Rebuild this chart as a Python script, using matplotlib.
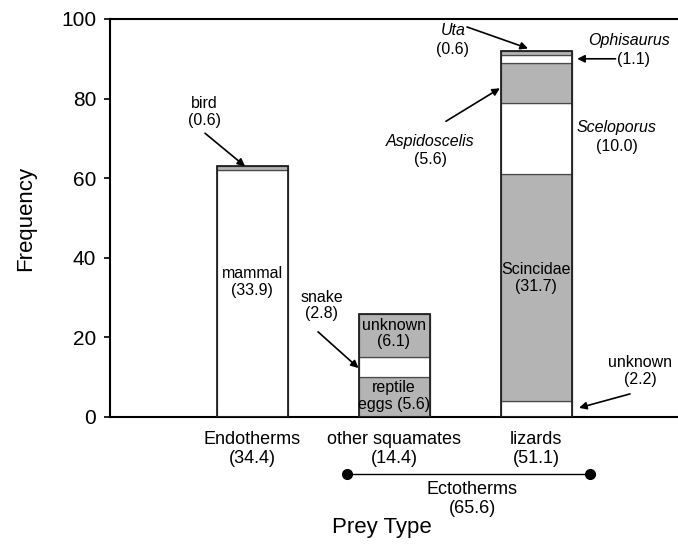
import matplotlib.pyplot as plt

plt.rcParams['font.family'] = ['Liberation Sans', 'DejaVu Sans']

# prey groups (x positions 1..3) and stacked counts, bottom to top
groups = ["Endotherms\n(34.4)", "other squamates\n(14.4)", "lizards\n(51.1)"]
endo_counts = [62, 1]                 # mammal, bird
squam_counts = [10, 5, 11]            # reptile eggs, snake, unknown
lizard_counts = [4, 57, 18, 10, 2, 1]  # unknown, Scincidae, Sceloporus, Aspidoscelis, Ophisaurus, Uta

endo_fill = ["white", "gray"]
squam_fill = ["gray", "white", "gray"]
lizard_fill = ["white", "gray", "white", "gray", "white", "gray"]

GRAY = "#b4b4b4"
bar_w = 0.5

fig = plt.figure(figsize=(6.78, 5.45), dpi=100)
ax = fig.add_axes([110 / 678, 1 - 417 / 545, 568 / 678, 398 / 545])


def stack(x, counts, fills):
    bottom = 0
    for c, f in zip(counts, fills):
        ax.bar(x, c, bottom=bottom, width=bar_w, color=GRAY if f == "gray" else "white",
               edgecolor="#4a4a4a", linewidth=0.9, zorder=2)
        bottom += c
    # outer outline
    ax.bar(x, bottom, width=bar_w, fill=False, edgecolor="#222222", linewidth=1.3, zorder=3)
    return bottom


tot_endo = stack(1, endo_counts, endo_fill)
tot_squam = stack(2, squam_counts, squam_fill)
tot_liz = stack(3, lizard_counts, lizard_fill)

ax.set_xlim(0, 4)
ax.set_ylim(0, 100)
ax.set_yticks([0, 20, 40, 60, 80, 100])
ax.set_xticks([1, 2, 3])
ax.set_xticklabels(groups, fontsize=13, linespacing=1.15)
ax.tick_params(axis="x", length=0, pad=10)
ax.tick_params(axis="y", labelsize=15, length=4, width=1.2, direction="out", pad=6)
ax.spines["right"].set_visible(False)
for s in ["left", "top", "bottom"]:
    ax.spines[s].set_linewidth(1.5)

ax.set_ylabel("Frequency", fontsize=16, labelpad=18)
ax.set_xlabel("Prey Type", fontsize=16)
ax.xaxis.set_label_coords((382 - 110) / 568, -(517 - 417) / 398)

arrow = dict(arrowstyle="-|>", color="black", lw=1.2, mutation_scale=11,
             shrinkA=0, shrinkB=0)
fs = 11.5

# Endotherms
ax.text(1, 34.0, "mammal\n(33.9)", ha="center", va="center", fontsize=fs, linespacing=1.15, zorder=4)
ax.text(0.662, 76.6, "bird\n(0.6)", ha="center", va="center", fontsize=fs, linespacing=1.15)
ax.annotate("", xy=(0.951, tot_endo), xytext=(0.669, 71.3), arrowprops=arrow)

# other squamates
ax.text(2, 21.0, "unknown\n(6.1)", ha="center", va="center", fontsize=fs, linespacing=1.15, zorder=4)
ax.text(2, 5.3, "reptile\neggs (5.6)", ha="center", va="center", fontsize=fs, linespacing=1.15, zorder=4)
ax.text(1.49, 28.0, "snake\n(2.8)", ha="center", va="center", fontsize=fs, linespacing=1.15)
ax.annotate("", xy=(2 - bar_w / 2, 12.3), xytext=(1.465, 21.4), arrowprops=arrow)

# lizards
ax.text(3, 35.0, "Scincidae\n(31.7)", ha="center", va="center", fontsize=fs, linespacing=1.15, zorder=4)
ax.text(3.57, 72.8, "Sceloporus", ha="center", va="center", fontsize=fs, style="italic")
ax.text(3.57, 68.0, "(10.0)", ha="center", va="center", fontsize=fs)
ax.text(2.254, 69.3, "Aspidoscelis", ha="center", va="center", fontsize=fs, style="italic")
ax.text(2.254, 64.8, "(5.6)", ha="center", va="center", fontsize=fs)
ax.annotate("", xy=(2.746, 82.6), xytext=(2.366, 74.3), arrowprops=arrow)
ax.text(3.655, 94.6, "Ophisaurus", ha="center", va="center", fontsize=fs, style="italic")
ax.text(3.69, 89.9, "(1.1)", ha="center", va="center", fontsize=fs)
ax.annotate("", xy=(3.29, 90.0), xytext=(3.56, 90.0), arrowprops=arrow)
ax.text(2.415, 97.0, "Uta", ha="center", va="center", fontsize=fs, style="italic")
ax.text(2.415, 92.3, "(0.6)", ha="center", va="center", fontsize=fs)
ax.annotate("", xy=(2.944, tot_liz + 0.6), xytext=(2.514, 98.0), arrowprops=arrow)
ax.text(3.732, 11.6, "unknown\n(2.2)", ha="center", va="center", fontsize=fs, linespacing=1.15)
ax.annotate("", xy=(3.303, 2.3), xytext=(3.662, 5.8), arrowprops=arrow)

# Ectotherms bracket below the axis
ax.plot([1.669, 3.38], [-14.4, -14.4], color="black", lw=1, marker="o", markersize=7,
        clip_on=False)
ax.text(2.55, -20.6, "Ectotherms\n(65.6)", ha="center", va="center", fontsize=13,
        linespacing=1.15, clip_on=False)

fig.savefig("out.png", dpi=100)
